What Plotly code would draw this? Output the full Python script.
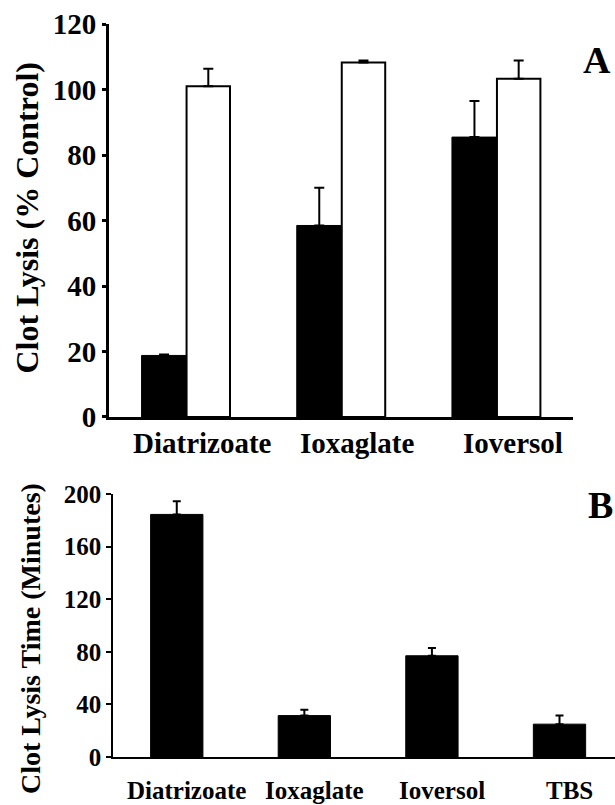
import plotly.graph_objects as go

# Panel A data
cats_a = ["Diatrizoate", "Ioxaglate", "Ioversol"]
black_a = [18.8, 58.5, 85.5]
black_a_err = [0.3, 11.5, 11.0]
white_a = [101.0, 108.3, 103.3]
white_a_err = [5.4, 0.6, 5.6]
yticks_a = [0, 20, 40, 60, 80, 100, 120]

# Panel B data
cats_b = ["Diatrizoate", "Ioxaglate", "Ioversol", "TBS"]
vals_b = [184.5, 31.5, 77.0, 25.0]
errs_b = [10.0, 4.5, 6.0, 6.5]
yticks_b = [0, 40, 80, 120, 160, 200]

FONT = "Liberation Serif, Times New Roman, serif"

fig = go.Figure()

xa = list(range(len(cats_a)))
xb = list(range(len(cats_b)))

fig.add_trace(go.Bar(
    x=xa, y=black_a, width=0.29, offset=-0.29,
    marker=dict(color="black", line=dict(color="black", width=1)),
    error_y=dict(type="data", array=black_a_err, arrayminus=[0] * 3, symmetric=False,
                 color="black", thickness=2, width=5),
    xaxis="x", yaxis="y", showlegend=False))
fig.add_trace(go.Bar(
    x=xa, y=white_a, width=0.28, offset=0.0,
    marker=dict(color="white", line=dict(color="black", width=2)),
    error_y=dict(type="data", array=white_a_err, arrayminus=[0] * 3, symmetric=False,
                 color="black", thickness=2, width=5),
    xaxis="x", yaxis="y", showlegend=False))

fig.add_trace(go.Bar(
    x=xb, y=vals_b, width=0.41, offset=-0.205,
    marker=dict(color="black", line=dict(color="black", width=1)),
    error_y=dict(type="data", array=errs_b, arrayminus=[0] * 4, symmetric=False,
                 color="black", thickness=2, width=4),
    xaxis="x2", yaxis="y2", showlegend=False))

annotations = []
for i, c in enumerate(cats_a):
    annotations.append(dict(x=i, y=0.4497, xref="x", yref="paper", text="<b>%s</b>" % c,
                            showarrow=False, xshift=16, xanchor="center", yanchor="middle",
                            font=dict(family=FONT, size=29, color="black")))
for i, c in enumerate(cats_b):
    annotations.append(dict(x=i, y=0.0185, xref="x2", yref="paper", text="<b>%s</b>" % c,
                            showarrow=False, xshift=10, xanchor="center", yanchor="middle",
                            font=dict(family=FONT, size=25, color="black")))
annotations.append(dict(x=0.0447, y=0.7292, xref="paper", yref="paper",
                        xanchor="center", yanchor="middle",
                        text="<b>Clot Lysis (% Control)</b>", textangle=-90, showarrow=False,
                        font=dict(family=FONT, size=32, color="black")))
annotations.append(dict(x=0.0488, y=0.2062, xref="paper", yref="paper",
                        xanchor="center", yanchor="middle",
                        text="<b>Clot Lysis Time (Minutes)</b>", textangle=-90, showarrow=False,
                        font=dict(family=FONT, size=28, color="black")))
annotations.append(dict(x=0.971, y=0.925, xref="paper", yref="paper", text="<b>A</b>",
                        xanchor="center", yanchor="middle",
                        showarrow=False, font=dict(family=FONT, size=38, color="black")))
annotations.append(dict(x=0.976, y=0.373, xref="paper", yref="paper", text="<b>B</b>",
                        xanchor="center", yanchor="middle",
                        showarrow=False, font=dict(family=FONT, size=38, color="black")))

fig.update_layout(
    width=615, height=805,
    margin=dict(l=0, r=0, t=0, b=0, autoexpand=False),
    paper_bgcolor="white", plot_bgcolor="white",
    barmode="overlay",
    font=dict(family=FONT, color="black"),
    xaxis=dict(domain=[0.1772, 0.9317], range=[-0.5, 2.49], showticklabels=False,
               showline=True, linecolor="black", linewidth=3, ticks="", showgrid=False,
               zeroline=False, anchor="y", automargin=False),
    yaxis=dict(domain=[0.482, 0.970], range=[0, 120], tickvals=yticks_a,
               ticktext=["<b>%d</b>" % v for v in yticks_a],
               tickfont=dict(family=FONT, size=29, color="black"),
               showline=True, linecolor="black", linewidth=3, ticks="outside",
               ticklen=4, tickwidth=3, tickcolor="black", showgrid=False, zeroline=False,
               anchor="x", automargin=False),
    xaxis2=dict(domain=[0.1837, 1.0], range=[-0.5, 3.435], showticklabels=False,
                showline=True, linecolor="black", linewidth=1.5, ticks="", showgrid=False,
                zeroline=False, anchor="y2", automargin=False),
    yaxis2=dict(domain=[0.0596, 0.3863], range=[0, 200], tickvals=yticks_b,
                ticktext=["<b>%d</b>" % v for v in yticks_b],
                tickfont=dict(family=FONT, size=25, color="black"),
                showline=True, linecolor="black", linewidth=1.5, ticks="outside",
                ticklen=5, tickwidth=1.5, tickcolor="black", showgrid=False, zeroline=False,
                anchor="x2", automargin=False),
    annotations=annotations,
)

fig.write_html("out.html")
